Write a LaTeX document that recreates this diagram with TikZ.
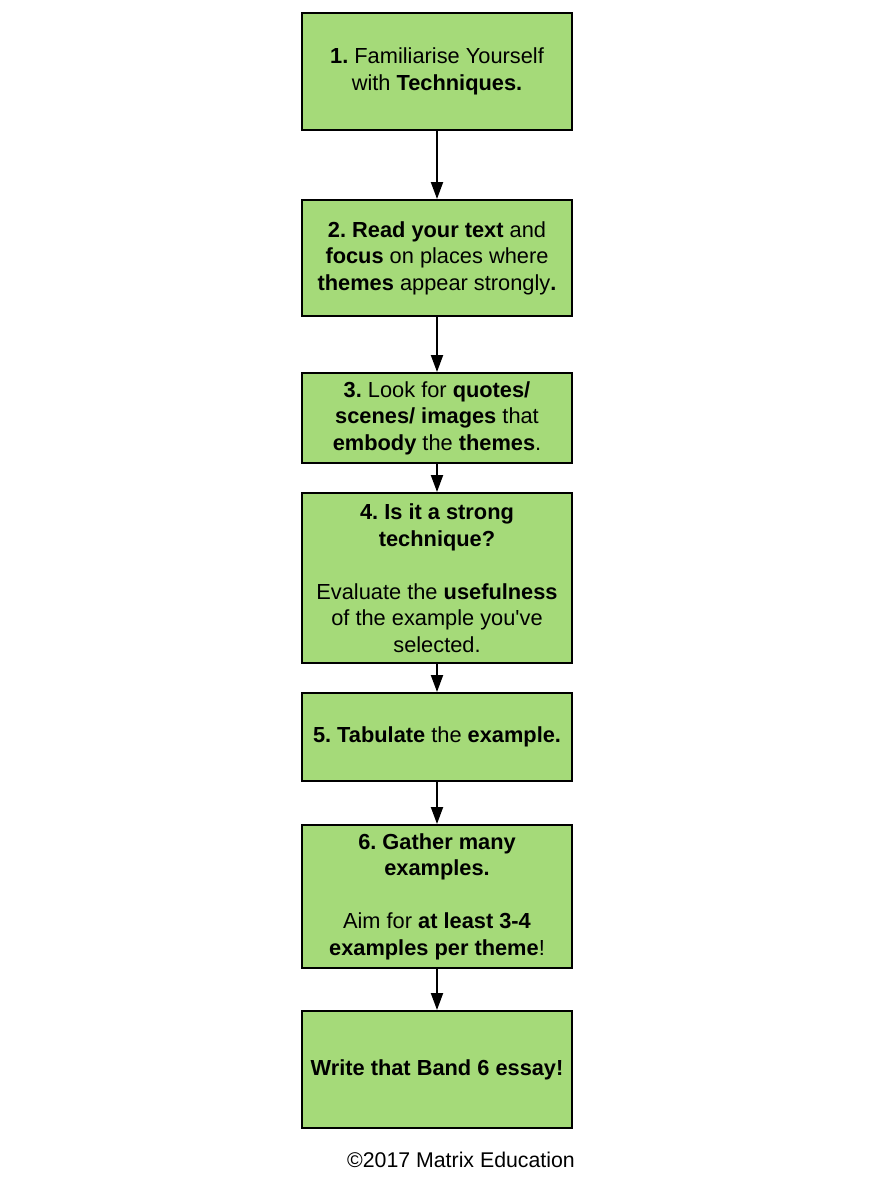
\documentclass[tikz,border=0pt]{standalone}
\usepackage{fontspec}
\setmainfont{Liberation Sans}
\usetikzlibrary{arrows.meta}
\frenchspacing
\definecolor{stepgreen}{RGB}{165,218,121}
\tikzset{
  stepbox/.style={draw=black, line width=2pt, fill=stepgreen, align=center, inner sep=0pt,
    minimum width=270pt, font=\fontsize{21.8}{26.5}\selectfont},
  flow/.style={line width=2pt, -{Triangle[length=17pt,width=12pt]}}
}
\begin{document}
\begin{tikzpicture}[x=1pt,y=-1pt]
\useasboundingbox (0,0) rectangle (870,1191);
\node[stepbox, minimum height=117pt] at (437,71.5) (s1) {\textbf{1.} Familiarise Yourself\\with \textbf{Techniques.}};
\node[stepbox, minimum height=116pt] at (437,258) (s2) {\textbf{2. Read your text} and\\\textbf{focus} on places where\\\textbf{themes} appear strongly\textbf{.}};
\node[stepbox, minimum height=90pt] at (437,418) (s3) {\textbf{3.} Look for \textbf{quotes/}\\\textbf{scenes/ images} that\\\textbf{embody} the \textbf{themes}.};
\node[stepbox, minimum height=170pt] at (437,578) (s4) {\textbf{4. Is it a strong}\\\textbf{technique?}\\[26.5pt]Evaluate the \textbf{usefulness}\\of the example you\textquotesingle ve\\selected.};
\node[stepbox, minimum height=88pt] at (437,737) (s5) {\textbf{5. Tabulate} the \textbf{example.}};
\node[stepbox, minimum height=143pt] at (437,896.5) (s6) {\textbf{6. Gather many}\\\textbf{examples.}\\[26.5pt]Aim for \textbf{at least 3-4}\\\textbf{examples per theme}!};
\node[stepbox, minimum height=117pt] at (437,1069.5) (s7) {\textbf{Write that Band 6 essay!}};

\draw[flow] (s1) -- (s2);
\draw[flow] (s2) -- (s3);
\draw[flow] (s3) -- (s4);
\draw[flow] (s4) -- (s5);
\draw[flow] (s5) -- (s6);
\draw[flow] (s6) -- (s7);

\node[font=\fontsize{21.3}{24}\selectfont] at (461,1160) (copy) {©2017 Matrix Education};
\end{tikzpicture}
\end{document}
